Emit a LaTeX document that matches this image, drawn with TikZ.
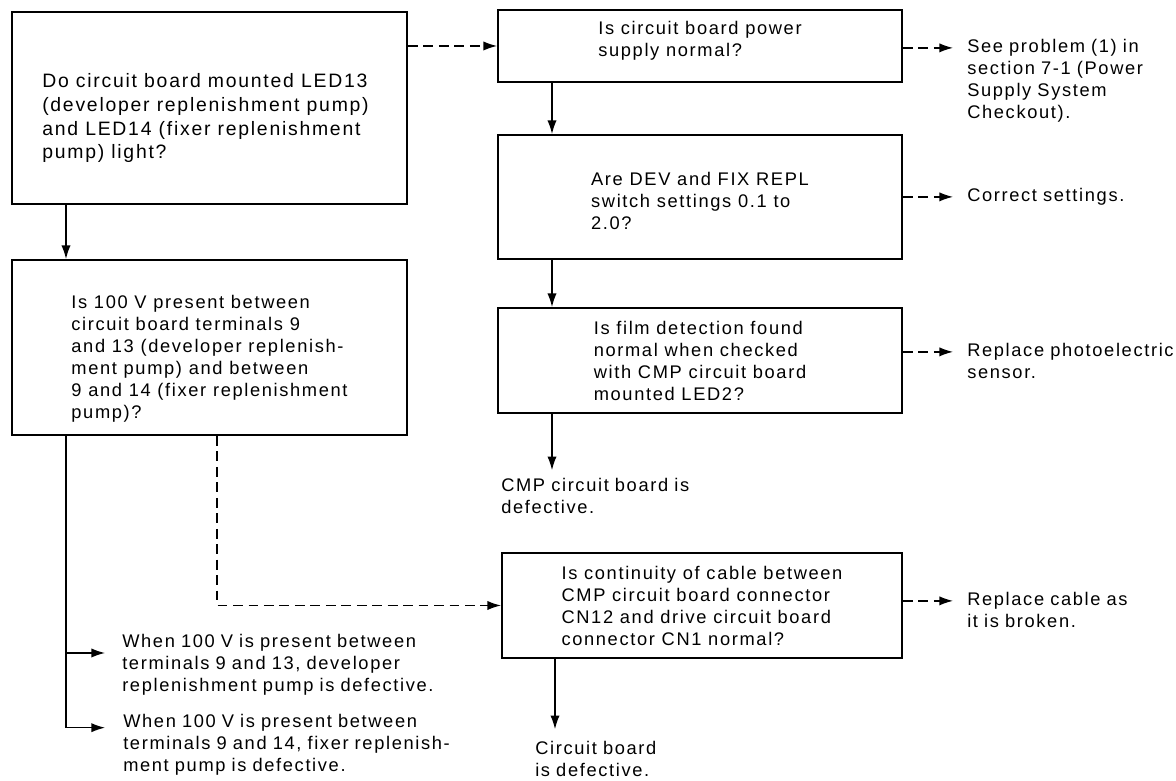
\documentclass[tikz,border=0pt]{standalone}
\usepackage{fontspec}
\setmainfont[LetterSpace=9]{Liberation Sans}
\usetikzlibrary{arrows.meta}

\begin{document}
\begin{tikzpicture}[
    font=\fontsize{13}{15.65}\selectfont,
    qbox/.style={draw, line width=1.4pt, align=left, inner sep=0pt},
    outtext/.style={align=left, anchor=base west, inner sep=0pt, text width=10cm},
    yesarrow/.style={line width=0.9pt, -{Latex[length=3.4mm,width=2.3mm]}},
    noarrow/.style={yesarrow, dash pattern=on 7pt off 4pt}
]
    \useasboundingbox (0,0) rectangle (29.4,19.525);

    % Left column
    \node[qbox, minimum width=9.875cm, minimum height=4.8cm,
        label={[align=left, inner sep=0pt, font=\fontsize{13.8}{16.8}\selectfont, xshift=-0.1cm, yshift=-0.26cm]center:{Do circuit board mounted LED13\\(developer replenishment pump)\\and LED14 (fixer replenishment\\pump) light?}}] (ledcheck) at (5.2375,16.825) {};
    \node[qbox, minimum width=9.875cm, minimum height=4.375cm] (voltcheck) at (5.2375,10.8375)
        {\mbox{}\\[10pt]Is 100 V present between\\circuit board terminals 9\\and 13 (developer replenish-\\ment pump) and between\\9 and 14 (fixer replenishment\\pump)?};

    % Right column
    \node[qbox, minimum width=10.1cm, minimum height=1.8cm] (powercheck) at (17.5,18.375)
        {Is circuit board power\\supply normal?\\[-6pt]\mbox{}};
    \node[qbox, minimum width=10.1cm, minimum height=3.1cm] (switchcheck) at (17.5,14.6)
        {\mbox{}\\Are DEV and FIX REPL\\switch settings 0.1 to\\2.0?};
    \node[qbox, minimum width=10.1cm, minimum height=2.625cm] (filmcheck) at (17.5,10.5125)
        {Is film detection found\\normal when checked\\with CMP circuit board\\mounted LED2?};
    \node[qbox, minimum width=10cm, minimum height=2.625cm] (cablecheck) at (17.55,4.3875)
        {Is continuity of cable between\\CMP circuit board connector\\CN12 and drive circuit board\\connector CN1 normal?};

    % Results
    \node[outtext] (seeproblem) at (24.175,18.2075) {See problem (1) in\\section 7-1 (Power\\Supply System\\Checkout).};
    \node[outtext] (correctset) at (24.175,14.4825) {Correct settings.};
    \node[outtext] (replsensor) at (24.175,10.6075) {Replace photoelectric\\sensor.};
    \node[outtext] (replcable) at (24.175,4.3825) {Replace cable as\\it is broken.};
    \node[outtext] (cmpdefect) at (12.525,7.2325) {CMP circuit board is\\defective.};
    \node[outtext] (boarddefect) at (13.375,0.6575) {Circuit board\\is defective.};
    \node[outtext] (devpump) at (3.05,3.33) {When 100 V is present between\\terminals 9 and 13, developer\\replenishment pump is defective.};
    \node[outtext] (fixpump) at (3.075,1.3325) {When 100 V is present between\\terminals 9 and 14, fixer replenish-\\ment pump is defective.};

    % Reference points for the connectors
    \coordinate (trunk) at (1.65,0);
    \coordinate (dropx) at (5.425,0);
    \coordinate (spine) at (13.8,0);
    \coordinate (spinelow) at (13.875,0);
    \coordinate (seeproblemin) at ([xshift=-0.35cm,yshift=0.12cm]seeproblem.base west);
    \coordinate (correctsetin) at ([xshift=-0.35cm,yshift=0.12cm]correctset.base west);
    \coordinate (replsensorin) at ([xshift=-0.35cm,yshift=0.12cm]replsensor.base west);
    \coordinate (replcablein) at ([xshift=-0.35cm,yshift=0.12cm]replcable.base west);
    \coordinate (devpumpin) at ([xshift=-0.425cm,yshift=-0.13cm]devpump.base west);
    \coordinate (fixpumpin) at ([xshift=-0.45cm]fixpump.base west);

    % Yes arrows
    \draw[yesarrow] (ledcheck.south -| trunk) -- (voltcheck.north -| trunk);
    \draw[yesarrow] (voltcheck.south -| trunk) |- (fixpumpin);
    \draw[yesarrow] (trunk |- devpumpin) -- (devpumpin);
    \draw[yesarrow] (powercheck.south -| spine) -- (switchcheck.north -| spine);
    \draw[yesarrow] (switchcheck.south -| spine) -- (filmcheck.north -| spine);
    \draw[yesarrow, shorten >=0.2cm] (filmcheck.south -| spine) -- (cmpdefect.north -| spine);
    \draw[yesarrow, shorten >=0.3cm] (cablecheck.south -| spinelow) -- (boarddefect.north -| spinelow);

    % No arrows
    \draw[noarrow] (ledcheck.east |- powercheck.west) -- (powercheck.west);
    \draw[noarrow] (powercheck.east |- seeproblemin) -- (seeproblemin);
    \draw[noarrow] (switchcheck.east |- correctsetin) -- (correctsetin);
    \draw[noarrow] (filmcheck.east |- replsensorin) -- (replsensorin);
    \draw[noarrow] (cablecheck.east |- replcablein) -- (replcablein);
    \draw[noarrow] (voltcheck.south -| dropx) |- (cablecheck.west);
\end{tikzpicture}
\end{document}
